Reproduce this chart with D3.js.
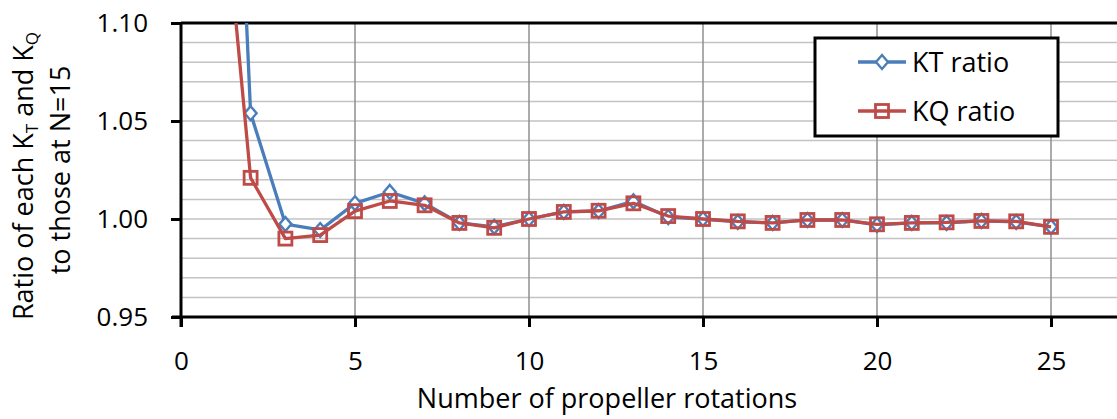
<!DOCTYPE html>
<html>
<head>
<meta charset="utf-8">
<script src="https://cdn.jsdelivr.net/npm/d3@7"></script>
<style>
  body { margin: 0; background: #fff; }
  svg { display: block; font-family: "Open Sans", sans-serif; }
</style>
</head>
<body>
<svg id="chart" width="1117" height="419"></svg>
<script>
// number of propeller rotations
const rotations = [1, 2, 3, 4, 5, 6, 7, 8, 9, 10, 11, 12, 13, 14, 15, 16, 17, 18, 19, 20, 21, 22, 23, 24, 25];
// ratios (first point is off the top of the axis)
const ktRatio = [1.45, 1.054, 0.9974, 0.9944, 1.008, 1.0138, 1.008, 0.998, 0.996, 1.000, 1.0036, 1.004, 1.009,
  1.001, 1.000, 0.9985, 0.998, 0.9995, 0.9995, 0.997, 0.998, 0.998, 0.999, 0.9985, 0.996];
const kqRatio = [1.21, 1.021, 0.990, 0.9918, 1.004, 1.0092, 1.007, 0.998, 0.9955, 1.000, 1.0036, 1.0042, 1.008,
  1.0015, 1.000, 0.9988, 0.998, 0.9995, 0.9995, 0.9973, 0.998, 0.9983, 0.999, 0.9988, 0.996];
const xTicks = [0, 5, 10, 15, 20, 25];
const yTicks = [0.95, 1.00, 1.05, 1.10];
const yMinor = d3.range(95, 111).map(d => d / 100);

const svg = d3.select("#chart");
const plotLeft = 181, plotTop = 23, plotBottom = 317;

// axis runs to 30, the picture is cut at the right edge
const x = d3.scaleLinear().domain([0, 30]).range([plotLeft, plotLeft + 6 * 174]);
const y = d3.scaleLinear().domain([0.95, 1.10]).range([plotBottom, plotTop]);

svg.append("defs").append("clipPath").attr("id", "plot")
  .append("rect").attr("x", plotLeft).attr("y", plotTop)
  .attr("width", 1117 - plotLeft).attr("height", plotBottom - plotTop);

// horizontal gridlines every 0.01
svg.append("g").selectAll("line").data(yMinor).join("line")
  .attr("x1", plotLeft).attr("x2", 1117)
  .attr("y1", d => y(d)).attr("y2", d => y(d))
  .attr("stroke", "#c3c3c3").attr("stroke-width", 1.5);

// vertical gridlines
svg.append("g").selectAll("line").data(xTicks.slice(1)).join("line")
  .attr("x1", d => x(d)).attr("x2", d => x(d))
  .attr("y1", plotTop).attr("y2", plotBottom)
  .attr("stroke", "#8f8f8f").attr("stroke-width", 1.5);

// top border of plot area
svg.append("line").attr("x1", plotLeft).attr("x2", 1117).attr("y1", plotTop).attr("y2", plotTop)
  .attr("stroke", "#000").attr("stroke-width", 3);

// axes
const xAxis = svg.append("g").attr("transform", `translate(0,${plotBottom})`)
  .call(d3.axisBottom(x).tickValues(xTicks).tickSize(10).tickPadding(25).tickFormat(d3.format("d")));
const yAxis = svg.append("g").attr("transform", `translate(${plotLeft},0)`)
  .call(d3.axisLeft(y).tickValues(yTicks).tickSize(10).tickPadding(23).tickFormat(d3.format(".2f")));
[xAxis, yAxis].forEach(g => {
  g.select(".domain").attr("stroke", "#000").attr("stroke-width", 3);
  g.selectAll(".tick line").attr("stroke", "#000").attr("stroke-width", 3);
  g.selectAll("text").attr("fill", "#000").attr("font-size", 26).attr("font-family", "'Open Sans', sans-serif");
});
xAxis.select(".domain").attr("d", `M${plotLeft - 9},0H1117`);
yAxis.select(".domain").attr("d", `M0,${plotTop}V${plotBottom + 10}`);

const series = [
  { values: ktRatio, color: "#4a7ebb", marker: "diamond" },
  { values: kqRatio, color: "#be4b48", marker: "square" }
];

const line = d3.line().x((d, i) => x(rotations[i])).y(d => y(d));
const plot = svg.append("g").attr("clip-path", "url(#plot)");

function marker(g, type, color) {
  if (type === "diamond") {
    g.append("path").attr("d", "M0,-7L6,0L0,7L-6,0Z")
      .attr("fill", "#fff").attr("stroke", color).attr("stroke-width", 2.4);
  } else {
    g.append("rect").attr("x", -6.5).attr("y", -6.5).attr("width", 13).attr("height", 13)
      .attr("fill", "none").attr("stroke", color).attr("stroke-width", 2.8);
  }
}

series.forEach(s => {
  plot.append("path").datum(s.values).attr("d", line)
    .attr("fill", "none").attr("stroke", s.color).attr("stroke-width", 3.3).attr("stroke-linejoin", "round");
  plot.append("g").selectAll("g").data(s.values).join("g")
    .attr("transform", (d, i) => `translate(${x(rotations[i])},${y(d)})`)
    .each(function () { marker(d3.select(this), s.marker, s.color); });
});

// axis titles
svg.append("text").attr("x", 607).attr("y", 408).attr("text-anchor", "middle")
  .attr("font-size", 27).text("Number of propeller rotations");

const yt = svg.append("text").attr("transform", "translate(33,176) rotate(-90)")
  .attr("text-anchor", "middle").attr("font-size", 27);
yt.append("tspan").text("Ratio of each K");
yt.append("tspan").attr("font-size", 17).attr("dy", 5).text("T");
yt.append("tspan").attr("dy", -5).text(" and K");
yt.append("tspan").attr("font-size", 17).attr("dy", 5).text("Q");
svg.append("text").attr("transform", "translate(70,170) rotate(-90)")
  .attr("text-anchor", "middle").attr("font-size", 27).text("to those at N=15");

// legend
const lg = svg.append("g").attr("transform", "translate(815,38)");
lg.append("rect").attr("width", 243).attr("height", 98)
  .attr("fill", "#fff").attr("stroke", "#000").attr("stroke-width", 3);
const names = ["KT ratio", "KQ ratio"];
series.forEach((s, i) => {
  const row = lg.append("g").attr("transform", `translate(0,${24 + i * 49})`);
  row.append("line").attr("x1", 43).attr("x2", 91).attr("stroke", s.color).attr("stroke-width", 3.3);
  marker(row.append("g").attr("transform", "translate(67,0)"), s.marker, s.color);
  row.append("text").attr("x", 97).attr("y", 10).attr("font-size", 27).text(names[i]);
});
</script>
</body>
</html>
